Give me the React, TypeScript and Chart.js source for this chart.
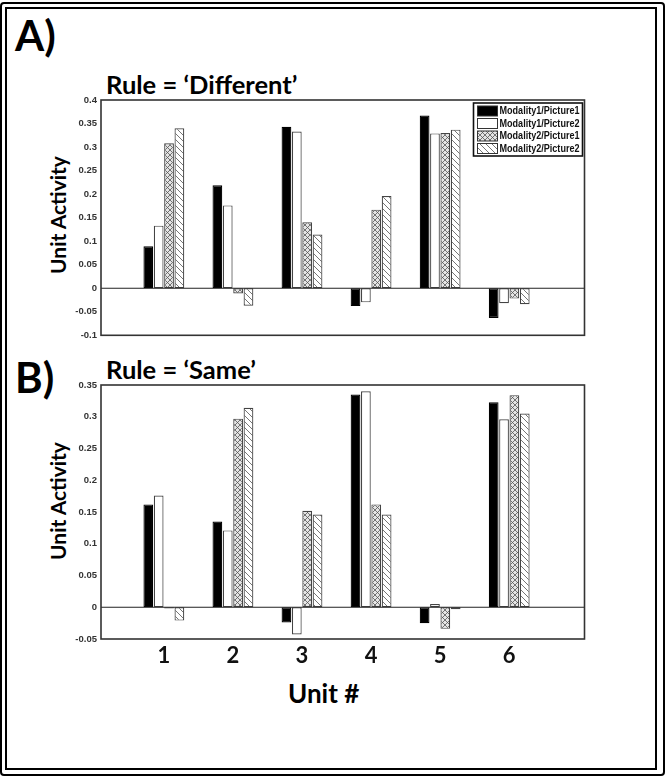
import React, { useEffect, useRef } from 'react';
import { Chart, registerables } from 'chart.js';

Chart.register(...registerables);

// ---------- data ----------
const units = [1, 2, 3, 4, 5, 6];
const seriesNames = ['Modality1/Picture1', 'Modality1/Picture2', 'Modality2/Picture1', 'Modality2/Picture2'];

// Rule = 'Different'
const diffM1P1 = [0.089, 0.219, 0.343, -0.038, 0.367, -0.063];
const diffM1P2 = [0.133, 0.176, 0.333, -0.03, 0.329, -0.032];
const diffM2P1 = [0.308, -0.011, 0.14, 0.167, 0.33, -0.022];
const diffM2P2 = [0.34, -0.037, 0.114, 0.196, 0.337, -0.034];

// Rule = 'Same'
const sameM1P1 = [0.162, 0.135, -0.024, 0.335, -0.025, 0.323];
const sameM1P2 = [0.176, 0.121, -0.043, 0.34, 0.005, 0.296];
const sameM2P1 = [-0.002, 0.297, 0.152, 0.162, -0.034, 0.334];
const sameM2P2 = [-0.021, 0.314, 0.146, 0.146, -0.003, 0.305];

const yTicksDiff = [-0.1, -0.05, 0, 0.05, 0.1, 0.15, 0.2, 0.25, 0.3, 0.35, 0.4];
const yTicksSame = [-0.05, 0, 0.05, 0.1, 0.15, 0.2, 0.25, 0.3, 0.35];

// ---------- patterns ----------
function crossPattern(ctx: CanvasRenderingContext2D) {
  const s = 5;
  const c = document.createElement('canvas');
  c.width = s; c.height = s;
  const g = c.getContext('2d')!;
  g.fillStyle = '#e4e4e4';
  g.fillRect(0, 0, s, s);
  g.strokeStyle = '#555';
  g.lineWidth = 0.8;
  g.beginPath();
  g.moveTo(0, 0); g.lineTo(s, s);
  g.moveTo(s, 0); g.lineTo(0, s);
  g.stroke();
  return ctx.createPattern(c, 'repeat')!;
}

function hatchPattern(ctx: CanvasRenderingContext2D) {
  const s = 6;
  const c = document.createElement('canvas');
  c.width = s; c.height = s;
  const g = c.getContext('2d')!;
  g.fillStyle = '#ffffff';
  g.fillRect(0, 0, s, s);
  g.strokeStyle = '#666';
  g.lineWidth = 0.9;
  g.beginPath();
  g.moveTo(-1, -1); g.lineTo(s + 1, s + 1);
  g.moveTo(-1, s - 1); g.lineTo(1, s + 1);
  g.moveTo(s - 1, -1); g.lineTo(s + 1, 1);
  g.stroke();
  return ctx.createPattern(c, 'repeat')!;
}

const fmt = (v: number) => String(Number(Number(v).toFixed(2)));

const framePlugin = {
  id: 'frame',
  afterDatasetsDraw(chart: any) {
    const { ctx, chartArea: a, scales } = chart;
    const y0 = scales.y.getPixelForValue(0);
    ctx.save();
    ctx.strokeStyle = '#222';
    ctx.lineWidth = 1.2;
    ctx.beginPath();
    ctx.moveTo(a.left, y0);
    ctx.lineTo(a.right, y0);
    ctx.stroke();
    ctx.lineWidth = 1.6;
    ctx.strokeStyle = '#333';
    ctx.strokeRect(a.left, a.top, a.right - a.left, a.bottom - a.top);
    ctx.restore();
  },
};

const legendPlugin = {
  id: 'boxLegend',
  afterDraw(chart: any) {
    const { ctx, chartArea: a } = chart;
    const bw = 109, bh = 53;
    const bx = a.right - bw - 2, by = a.top + 3;
    ctx.save();
    ctx.fillStyle = '#fff';
    ctx.fillRect(bx, by, bw, bh);
    ctx.lineWidth = 1.6;
    ctx.strokeStyle = '#111';
    ctx.strokeRect(bx, by, bw, bh);
    chart.data.datasets.forEach((ds: any, i: number) => {
      const sy = by + 3 + i * 12.5;
      ctx.fillStyle = ds.backgroundColor;
      ctx.fillRect(bx + 4, sy, 20, 10);
      ctx.lineWidth = 1;
      ctx.strokeStyle = '#333';
      ctx.strokeRect(bx + 4, sy, 20, 10);
      ctx.fillStyle = '#111';
      ctx.font = 'bold 10px "Liberation Sans", Arial, sans-serif';
      ctx.textBaseline = 'middle';
      ctx.textAlign = 'left';
      ctx.fillText(ds.label, bx + 26, sy + 5.5, 80);
    });
    ctx.restore();
  },
};

function buildChart(
  canvas: HTMLCanvasElement,
  series: number[][],
  yMin: number,
  yMax: number,
  yTicks: number[],
  showX: boolean,
  showLegend: boolean
) {
  const ctx = canvas.getContext('2d')!;
  const fills: any[] = ['#000000', '#ffffff', crossPattern(ctx), hatchPattern(ctx)];
  const borders = ['#000000', '#444444', '#444444', '#444444'];
  return new Chart(canvas, {
    type: 'bar',
    data: {
      datasets: series.map((vals, i) => ({
        label: seriesNames[i],
        data: units.map((u, j) => ({ x: u, y: vals[j] })),
        backgroundColor: fills[i],
        borderColor: borders[i],
        borderWidth: 1.2,
        borderSkipped: false,
        barPercentage: 0.94,
        categoryPercentage: 0.6,
      })),
    },
    options: {
      animation: false,
      responsive: false,
      devicePixelRatio: 1,
      layout: { padding: { left: 0, right: 15.5, top: 10, bottom: 0 } },
      plugins: { legend: { display: false }, tooltip: { enabled: false }, title: { display: false } },
      scales: {
        x: {
          type: 'linear',
          min: 0.09,
          max: 7.09,
          offset: false,
          display: showX,
          grid: { display: false, drawTicks: false },
          border: { display: false },
          afterBuildTicks: (s: any) => {
            s.ticks = units.map((v) => ({ value: v }));
          },
          afterFit: (s: any) => {
            if (showX) s.height = 36;
          },
          ticks: {
            padding: 4,
            color: '#111',
            font: { family: 'Lato', weight: 'bold', size: 22 },
            callback: (v: any) => String(v),
          },
        },
        y: {
          type: 'linear',
          min: yMin,
          max: yMax,
          grid: { display: false, drawTicks: false },
          border: { display: false },
          afterBuildTicks: (s: any) => {
            s.ticks = yTicks.map((v) => ({ value: v }));
          },
          afterFit: (s: any) => {
            s.width = 101;
          },
          ticks: {
            padding: 4,
            color: '#333',
            font: { family: '"Liberation Sans", Arial, sans-serif', weight: 'bold', size: 9.5 },
            callback: (v: any) => fmt(v),
          },
        },
      },
    } as any,
    plugins: showLegend ? [framePlugin, legendPlugin] : [framePlugin],
  });
}

const abs = (s: React.CSSProperties): React.CSSProperties => ({ position: 'absolute', ...s });

export default function App() {
  const refA = useRef<HTMLCanvasElement>(null);
  const refB = useRef<HTMLCanvasElement>(null);

  useEffect(() => {
    const a = buildChart(refA.current!, [diffM1P1, diffM1P2, diffM2P1, diffM2P2], -0.1, 0.4, yTicksDiff, false, true);
    const b = buildChart(refB.current!, [sameM1P1, sameM1P2, sameM2P1, sameM2P2], -0.05, 0.35, yTicksSame, true, false);
    return () => {
      a.destroy();
      b.destroy();
    };
  }, []);

  const heading: React.CSSProperties = {
    fontFamily: 'Lato, sans-serif',
    fontWeight: 700,
    lineHeight: 1,
    whiteSpace: 'nowrap',
    color: '#000',
  };

  return (
    <div style={abs({ left: 0, top: 0, width: 666, height: 780, background: '#fff', overflow: 'hidden' })}>
      <div style={abs({ left: 0, top: 2, width: 665, height: 773.5, border: '2.5px solid #000', borderRadius: 4, boxSizing: 'border-box' })} />
      <div style={abs({ left: 4.5, top: 7, width: 652.5, height: 762.5, border: '2.5px solid #000', boxSizing: 'border-box' })} />

      <div style={abs({ ...heading, left: 15, top: 14, fontSize: 42 })}>A)</div>
      <div style={abs({ ...heading, left: 106, top: 72, fontSize: 25.5 })}>Rule = ‘Different’</div>
      <div style={abs({ ...heading, left: 15, top: 356, fontSize: 42 })}>B)</div>
      <div style={abs({ ...heading, left: 106, top: 357, fontSize: 25.5 })}>Rule = ‘Same’</div>

      <div style={abs({ ...heading, left: 57, top: 215, fontSize: 21, transform: 'translate(-50%, -50%) rotate(-90deg)' })}>Unit Activity</div>
      <div style={abs({ ...heading, left: 57, top: 501, fontSize: 21, transform: 'translate(-50%, -50%) rotate(-90deg)' })}>Unit Activity</div>
      <div style={abs({ ...heading, left: 288, top: 680, fontSize: 26 })}>Unit #</div>

      <canvas ref={refA} width={600} height={255} style={abs({ left: 0, top: 90, width: 600, height: 255 })} />
      <canvas ref={refB} width={600} height={300} style={abs({ left: 0, top: 375, width: 600, height: 300 })} />
    </div>
  );
}
